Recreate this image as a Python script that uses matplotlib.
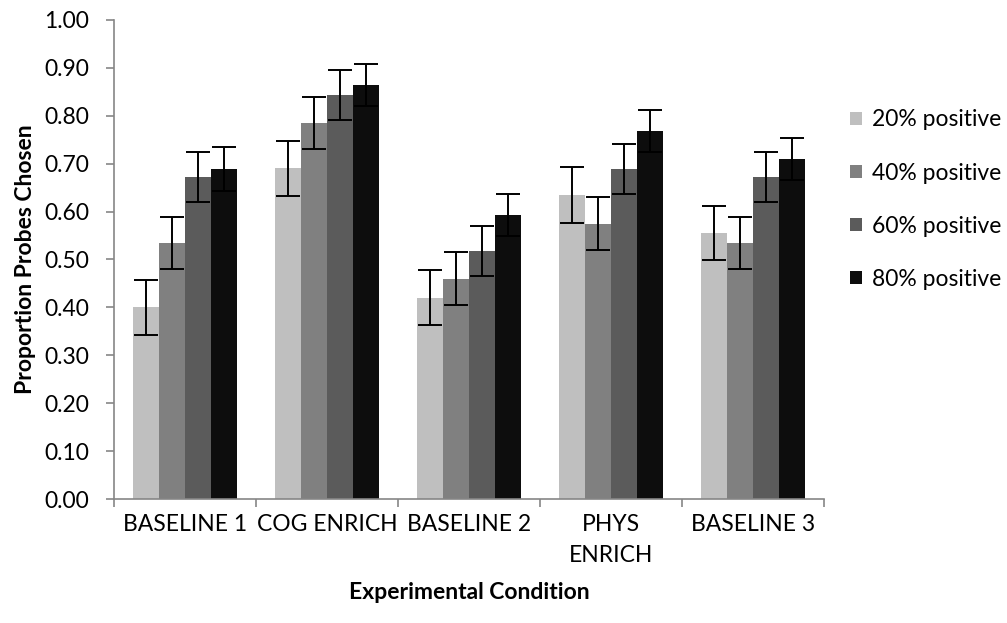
import numpy as np
import matplotlib.pyplot as plt

plt.rcParams['font.family'] = ['Lato', 'DejaVu Sans']

conditions = ['BASELINE 1', 'COG ENRICH', 'BASELINE 2', 'PHYS\nENRICH', 'BASELINE 3']
series = ['20% positive', '40% positive', '60% positive', '80% positive']

p20 = [0.40, 0.69, 0.42, 0.635, 0.555]
p40 = [0.535, 0.785, 0.46, 0.575, 0.535]
p60 = [0.672, 0.843, 0.518, 0.689, 0.672]
p80 = [0.689, 0.864, 0.593, 0.768, 0.710]

e20 = [0.057, 0.058, 0.057, 0.058, 0.056]
e40 = [0.054, 0.055, 0.056, 0.055, 0.054]
e60 = [0.052, 0.052, 0.052, 0.052, 0.052]
e80 = [0.046, 0.044, 0.044, 0.044, 0.044]

colors = ['#bfbfbf', '#808080', '#5b5b5b', '#0d0d0d']
fs = 16.5

fig = plt.figure(figsize=(10.07, 6.23), dpi=100)
ax = fig.add_axes([0.1132, 0.199, 0.705, 0.769])

x = np.arange(len(conditions))
w = 0.182
for i, (vals, errs) in enumerate(zip([p20, p40, p60, p80], [e20, e40, e60, e80])):
    pos = x + (i - 1.5) * w
    ax.bar(pos, vals, width=w, color=colors[i], label=series[i], zorder=2)
    ax.errorbar(pos, vals, yerr=errs, fmt='none', ecolor='black',
                elinewidth=1.4, capsize=8.5, capthick=1.4, zorder=3)

ax.set_xlim(-0.5, len(conditions) - 0.5)
ax.set_ylim(0, 1.0)
yt = np.arange(0, 1.01, 0.1)
ax.set_yticks(yt)
ax.set_yticklabels([f'{v:.2f}' for v in yt])

# ticks sit on the category boundaries, labels in the middle
ax.set_xticks(np.arange(-0.5, len(conditions)))
ax.set_xticklabels([])
ax.set_xticks(x, minor=True)
ax.set_xticklabels(conditions, minor=True, linespacing=1.55)
ax.tick_params(axis='x', which='minor', length=0, pad=11, labelsize=fs)
ax.tick_params(axis='x', which='major', length=6, color='#868686', width=1.2)
ax.tick_params(axis='y', length=6, color='#868686', width=1.2, labelsize=fs, pad=12)

for side in ['top', 'right']:
    ax.spines[side].set_visible(False)
for side in ['left', 'bottom']:
    ax.spines[side].set_color('#868686')
    ax.spines[side].set_linewidth(1.2)

ax.set_ylabel('Proportion Probes Chosen', fontsize=fs, fontweight='bold', labelpad=6)
ax.set_xlabel('Experimental Condition', fontsize=fs, fontweight='bold', labelpad=12)

ax.legend(loc='center left', bbox_to_anchor=(1.037, 0.625), frameon=False,
          fontsize=fs, handlelength=0.53, handleheight=0.53, handletextpad=0.4,
          labelspacing=1.4, borderaxespad=0, borderpad=0)

fig.savefig('out.png', dpi=100)
